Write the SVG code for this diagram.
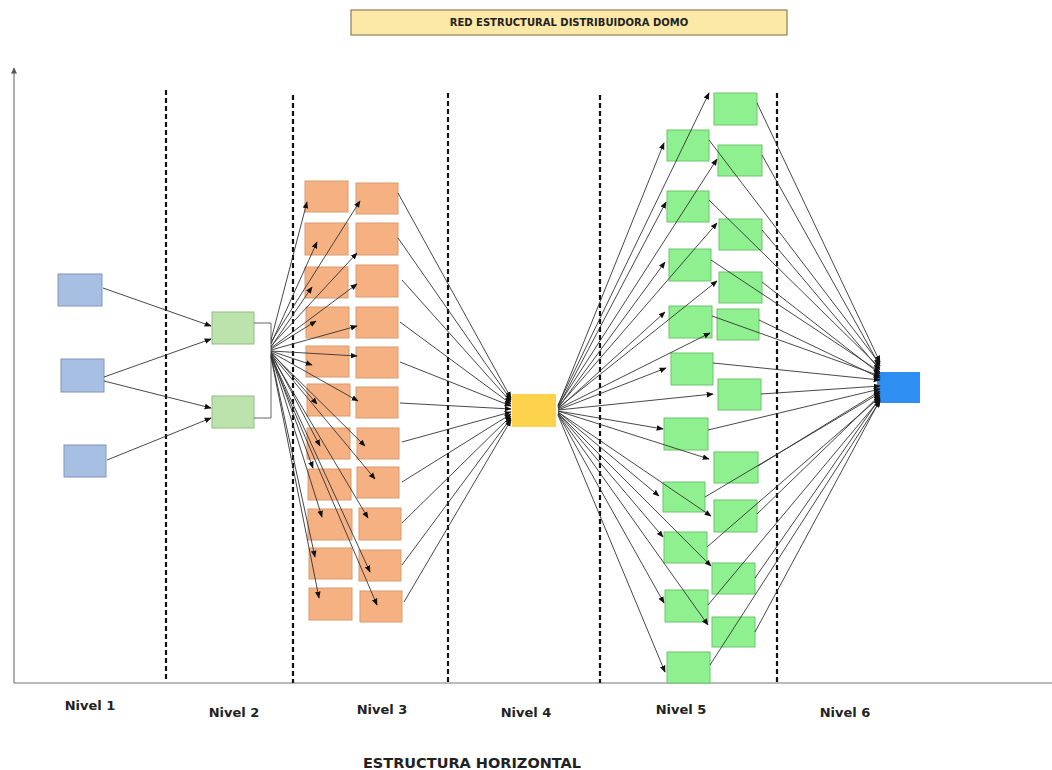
<svg xmlns="http://www.w3.org/2000/svg" width="1052" height="770" viewBox="0 0 1052 770">
<style>
.t{font-family:"DejaVu Sans",Verdana,sans-serif;font-weight:bold;fill:#222}
.b1{fill:#a7bfe2;stroke:#8196b8;stroke-width:1}
.g2{fill:#bde3ad;stroke:#93bb86;stroke-width:1}
.o3{fill:#f6b183;stroke:#d89a70;stroke-width:1}
.y4{fill:#fdd34e;stroke:none}
.g5{fill:#8ff08f;stroke:#6cc46c;stroke-width:1}
.b6{fill:#2f8ef2;stroke:none}
.ln line{stroke:#333;stroke-width:0.9;fill:none}
.ar line{marker-end:url(#ah)}
.dash{stroke:#111;stroke-width:2.2;stroke-dasharray:5,3;fill:none}
.ax{stroke:#777;stroke-width:1.2;fill:none}
</style>
<defs>
<marker id="ah" viewBox="0 0 10 10" refX="9" refY="5" markerWidth="7" markerHeight="7" markerUnits="userSpaceOnUse" orient="auto">
<path d="M0,1 L10,5 L0,9 z" fill="#111"/>
</marker>
<marker id="axh" viewBox="0 0 10 10" refX="9" refY="5" markerWidth="7" markerHeight="6" markerUnits="userSpaceOnUse" orient="auto">
<path d="M0,0 L10,5 L0,10 z" fill="#555"/>
</marker>
</defs>
<rect width="1052" height="770" fill="#fff"/>
<g id="title">
<rect x="351" y="10" width="436" height="25" fill="#fde9a7" stroke="#8a7d58" stroke-width="1.2"/>
<text class="t" x="569" y="26" font-size="10" text-anchor="middle">RED ESTRUCTURAL DISTRIBUIDORA DOMO</text>
</g>
<g id="axes">
<line class="ax" x1="14" y1="683" x2="14" y2="68" marker-end="url(#axh)"/>
<line class="ax" x1="14" y1="683" x2="1052" y2="683"/>
</g>
<g id="dividers">
<line class="dash" x1="166" y1="90" x2="166" y2="681"/>
<line class="dash" x1="293" y1="95" x2="293" y2="683"/>
<line class="dash" x1="448" y1="93" x2="448" y2="683"/>
<line class="dash" x1="600" y1="95" x2="600" y2="683"/>
<line class="dash" x1="777" y1="93" x2="777" y2="683"/>
</g>
<g id="n1a"><rect class="b1" x="58" y="274" width="44" height="32"/></g>
<g id="n1b"><rect class="b1" x="61" y="359" width="43" height="33"/></g>
<g id="n1c"><rect class="b1" x="64" y="445" width="42" height="32"/></g>
<g id="n2a"><rect class="g2" x="212" y="312" width="42" height="32"/></g>
<g id="n2b"><rect class="g2" x="212" y="396" width="42" height="32"/></g>
<g id="n3-a1"><rect class="o3" x="305" y="181" width="43" height="31"/></g>
<g id="n3-b1"><rect class="o3" x="356" y="183" width="42" height="31"/></g>
<g id="n3-a2"><rect class="o3" x="305" y="223" width="43" height="32"/></g>
<g id="n3-b2"><rect class="o3" x="356" y="223" width="42" height="32"/></g>
<g id="n3-a3"><rect class="o3" x="305" y="267" width="43" height="31"/></g>
<g id="n3-b3"><rect class="o3" x="356" y="265" width="42" height="32"/></g>
<g id="n3-a4"><rect class="o3" x="306" y="307" width="43" height="31"/></g>
<g id="n3-b4"><rect class="o3" x="356" y="307" width="42" height="31"/></g>
<g id="n3-a5"><rect class="o3" x="306" y="346" width="43" height="31"/></g>
<g id="n3-b5"><rect class="o3" x="356" y="347" width="42" height="31"/></g>
<g id="n3-a6"><rect class="o3" x="307" y="384" width="43" height="32"/></g>
<g id="n3-b6"><rect class="o3" x="356" y="387" width="42" height="31"/></g>
<g id="n3-a7"><rect class="o3" x="307" y="428" width="43" height="31"/></g>
<g id="n3-b7"><rect class="o3" x="357" y="428" width="42" height="31"/></g>
<g id="n3-a8"><rect class="o3" x="308" y="469" width="43" height="31"/></g>
<g id="n3-b8"><rect class="o3" x="357" y="467" width="42" height="31"/></g>
<g id="n3-a9"><rect class="o3" x="308" y="509" width="44" height="31"/></g>
<g id="n3-b9"><rect class="o3" x="359" y="508" width="42" height="32"/></g>
<g id="n3-a10"><rect class="o3" x="309" y="548" width="43" height="31"/></g>
<g id="n3-b10"><rect class="o3" x="359" y="550" width="42" height="31"/></g>
<g id="n3-a11"><rect class="o3" x="309" y="588" width="43" height="32"/></g>
<g id="n3-b11"><rect class="o3" x="360" y="591" width="42" height="31"/></g>
<g id="n4"><rect class="y4" x="512" y="394" width="44" height="33"/></g>
<g id="n5-b1"><rect class="g5" x="714" y="93" width="43" height="32"/></g>
<g id="n5-a1"><rect class="g5" x="667" y="130" width="42" height="31"/></g>
<g id="n5-b2"><rect class="g5" x="718" y="145" width="44" height="31"/></g>
<g id="n5-a2"><rect class="g5" x="667" y="191" width="42" height="31"/></g>
<g id="n5-b3"><rect class="g5" x="719" y="219" width="43" height="31"/></g>
<g id="n5-a3"><rect class="g5" x="669" y="249" width="42" height="32"/></g>
<g id="n5-b4"><rect class="g5" x="719" y="272" width="43" height="31"/></g>
<g id="n5-a4"><rect class="g5" x="669" y="306" width="43" height="32"/></g>
<g id="n5-b5"><rect class="g5" x="717" y="309" width="42" height="31"/></g>
<g id="n5-a5"><rect class="g5" x="671" y="353" width="42" height="32"/></g>
<g id="n5-b6"><rect class="g5" x="718" y="379" width="43" height="31"/></g>
<g id="n5-a6"><rect class="g5" x="664" y="418" width="44" height="32"/></g>
<g id="n5-b7"><rect class="g5" x="714" y="452" width="44" height="31"/></g>
<g id="n5-a7"><rect class="g5" x="663" y="482" width="42" height="30"/></g>
<g id="n5-b8"><rect class="g5" x="714" y="500" width="43" height="32"/></g>
<g id="n5-a8"><rect class="g5" x="664" y="532" width="43" height="31"/></g>
<g id="n5-b9"><rect class="g5" x="712" y="563" width="43" height="31"/></g>
<g id="n5-a9"><rect class="g5" x="665" y="590" width="43" height="32"/></g>
<g id="n5-b10"><rect class="g5" x="712" y="617" width="43" height="30"/></g>
<g id="n5-a10"><rect class="g5" x="667" y="652" width="43" height="31"/></g>
<g id="n6"><rect class="b6" x="877" y="372" width="43" height="31"/></g>
<g id="connectors" class="ln">
<g class="ar">
<line x1="103" y1="288" x2="211" y2="326"/>
<line x1="104" y1="377" x2="211" y2="339"/>
<line x1="104" y1="381" x2="211" y2="408"/>
<line x1="107" y1="460" x2="211" y2="418"/>
</g>
<polyline points="254,323 271,323 271,418 254,418" fill="none" stroke="#555" stroke-width="0.9"/>
<g class="ar">
<line x1="271" y1="340" x2="307" y2="202"/>
<line x1="271" y1="342" x2="360" y2="201"/>
<line x1="271" y1="344" x2="317" y2="242"/>
<line x1="271" y1="346" x2="357" y2="253"/>
<line x1="271" y1="347" x2="312" y2="287"/>
<line x1="271" y1="348" x2="357" y2="284"/>
<line x1="271" y1="349" x2="316" y2="321"/>
<line x1="271" y1="350" x2="357" y2="326"/>
<line x1="271" y1="351" x2="312" y2="365"/>
<line x1="271" y1="351" x2="357" y2="356"/>
<line x1="271" y1="352" x2="317" y2="404"/>
<line x1="271" y1="352" x2="358" y2="401"/>
<line x1="271" y1="353" x2="320" y2="446"/>
<line x1="271" y1="353" x2="365" y2="446"/>
<line x1="271" y1="354" x2="313" y2="468"/>
<line x1="271" y1="354" x2="375" y2="479"/>
<line x1="271" y1="355" x2="322" y2="517"/>
<line x1="271" y1="355" x2="368" y2="518"/>
<line x1="271" y1="356" x2="315" y2="557"/>
<line x1="271" y1="356" x2="370" y2="572"/>
<line x1="271" y1="357" x2="319" y2="598"/>
<line x1="271" y1="357" x2="377" y2="605"/>
</g>
<g class="ar">
<line x1="398" y1="193" x2="511" y2="398"/>
<line x1="398" y1="238" x2="511" y2="400"/>
<line x1="402" y1="280" x2="511" y2="402"/>
<line x1="400" y1="322" x2="511" y2="404"/>
<line x1="400" y1="362" x2="511" y2="406"/>
<line x1="400" y1="403" x2="511" y2="409"/>
<line x1="402" y1="442" x2="511" y2="412"/>
<line x1="402" y1="482" x2="511" y2="414"/>
<line x1="402" y1="523" x2="511" y2="416"/>
<line x1="402" y1="565" x2="511" y2="418"/>
<line x1="404" y1="602" x2="511" y2="420"/>
</g>
<g class="ar">
<line x1="558" y1="405" x2="709" y2="93"/>
<line x1="558" y1="406" x2="664" y2="143"/>
<line x1="558" y1="406" x2="717" y2="159"/>
<line x1="558" y1="407" x2="666" y2="202"/>
<line x1="558" y1="407" x2="717" y2="223"/>
<line x1="558" y1="408" x2="665" y2="262"/>
<line x1="558" y1="408" x2="717" y2="281"/>
<line x1="558" y1="409" x2="665" y2="312"/>
<line x1="558" y1="409" x2="710" y2="333"/>
<line x1="558" y1="410" x2="666" y2="368"/>
<line x1="558" y1="410" x2="713" y2="394"/>
<line x1="558" y1="411" x2="663" y2="429"/>
<line x1="558" y1="411" x2="709" y2="459"/>
<line x1="558" y1="412" x2="659" y2="496"/>
<line x1="558" y1="412" x2="711" y2="516"/>
<line x1="558" y1="413" x2="663" y2="537"/>
<line x1="558" y1="413" x2="711" y2="566"/>
<line x1="558" y1="414" x2="664" y2="603"/>
<line x1="558" y1="414" x2="708" y2="625"/>
<line x1="558" y1="415" x2="665" y2="672"/>
</g>
<g class="ar">
<line x1="757" y1="103" x2="880" y2="362"/>
<line x1="709" y1="140" x2="880" y2="364"/>
<line x1="762" y1="155" x2="880" y2="366"/>
<line x1="709" y1="200" x2="880" y2="368"/>
<line x1="762" y1="230" x2="880" y2="370"/>
<line x1="711" y1="260" x2="880" y2="372"/>
<line x1="762" y1="282" x2="880" y2="374"/>
<line x1="712" y1="316" x2="880" y2="376"/>
<line x1="759" y1="320" x2="880" y2="378"/>
<line x1="713" y1="363" x2="880" y2="380"/>
<line x1="761" y1="394" x2="880" y2="386"/>
<line x1="708" y1="430" x2="880" y2="389"/>
<line x1="758" y1="466" x2="880" y2="391"/>
<line x1="705" y1="497" x2="880" y2="393"/>
<line x1="757" y1="514" x2="880" y2="395"/>
<line x1="707" y1="547" x2="880" y2="397"/>
<line x1="755" y1="578" x2="880" y2="398"/>
<line x1="708" y1="605" x2="880" y2="399"/>
<line x1="755" y1="632" x2="880" y2="400"/>
<line x1="710" y1="665" x2="880" y2="401"/>
</g>
</g>
<g id="labels">
<text class="t" x="90" y="710" font-size="13" text-anchor="middle">Nivel 1</text>
<text class="t" x="234" y="717" font-size="13" text-anchor="middle">Nivel 2</text>
<text class="t" x="382" y="714" font-size="13" text-anchor="middle">Nivel 3</text>
<text class="t" x="526" y="717" font-size="13" text-anchor="middle">Nivel 4</text>
<text class="t" x="681" y="714" font-size="13" text-anchor="middle">Nivel 5</text>
<text class="t" x="845" y="717" font-size="13" text-anchor="middle">Nivel 6</text>
<text class="t" x="472" y="768" font-size="14.5" text-anchor="middle">ESTRUCTURA HORIZONTAL</text>
</g>
</svg>
